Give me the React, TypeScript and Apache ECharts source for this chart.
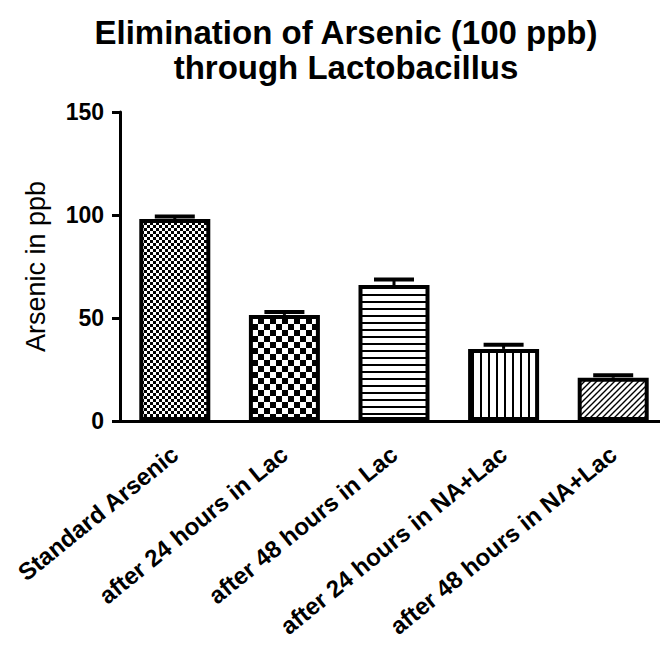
import React, { useEffect, useRef } from "react";
import * as echarts from "echarts";

const titleText = "Elimination of Arsenic (100 ppb)\nthrough Lactobacillus";
const yAxisName = "Arsenic in ppb";
const categories = [
  "Standard Arsenic",
  "after 24 hours in Lac",
  "after 48 hours in Lac",
  "after 24 hours in NA+Lac",
  "after 48 hours in NA+Lac",
];
const means = [98, 51.5, 66, 35, 21];
const errors = [1.3, 1.4, 2.7, 2, 1.2];
const patternKinds = ["fineChecker", "coarseChecker", "hlines", "vlines", "diag"];

function makePattern(kind: string): HTMLCanvasElement {
  const c = document.createElement("canvas");
  const ctx = c.getContext("2d")!;
  if (kind === "fineChecker" || kind === "coarseChecker") {
    const cell = kind === "fineChecker" ? 3 : 6;
    c.width = cell * 2;
    c.height = cell * 2;
    ctx.fillStyle = "#fff";
    ctx.fillRect(0, 0, c.width, c.height);
    ctx.fillStyle = "#000";
    ctx.fillRect(0, 0, cell, cell);
    ctx.fillRect(cell, cell, cell, cell);
  } else if (kind === "hlines") {
    c.width = 7;
    c.height = 7;
    ctx.fillStyle = "#fff";
    ctx.fillRect(0, 0, 7, 7);
    ctx.fillStyle = "#000";
    ctx.fillRect(0, 0, 7, 2);
  } else if (kind === "vlines") {
    c.width = 8;
    c.height = 8;
    ctx.fillStyle = "#fff";
    ctx.fillRect(0, 0, 8, 8);
    ctx.fillStyle = "#000";
    ctx.fillRect(0, 0, 2, 8);
  } else {
    const p = 6;
    c.width = p;
    c.height = p;
    ctx.fillStyle = "#fff";
    ctx.fillRect(0, 0, p, p);
    ctx.strokeStyle = "#000";
    ctx.lineWidth = 1.4;
    ctx.beginPath();
    ctx.moveTo(0, p);
    ctx.lineTo(p, 0);
    ctx.moveTo(-1, 1);
    ctx.lineTo(1, -1);
    ctx.moveTo(p - 1, p + 1);
    ctx.lineTo(p + 1, p - 1);
    ctx.stroke();
  }
  return c;
}

export default function App() {
  const ref = useRef<HTMLDivElement>(null);
  useEffect(() => {
    document.body.style.overflow = "hidden";
    if (!ref.current) return;
    const chart = echarts.init(ref.current, undefined, { renderer: "svg" });
    const font = "'Liberation Sans', Arial, sans-serif";
    const barData = means.map((v, i) => ({
      value: v,
      itemStyle: {
        color: { image: makePattern(patternKinds[i]), repeat: "repeat" } as any,
        borderColor: "#000",
        borderWidth: 4,
      },
    }));
    const errData = means.map((v, i) => [i, v, v + errors[i]]);
    chart.setOption({
      animation: false,
      backgroundColor: "#fff",
      title: {
        text: titleText,
        left: 341,
        top: 10,
        textAlign: "center",
        textStyle: {
          fontFamily: font,
          fontWeight: "bold",
          fontSize: 33,
          lineHeight: 35,
          color: "#000",
        },
      },
      grid: { left: 120, right: 0, top: 112, bottom: 232, containLabel: false },
      xAxis: {
        type: "category",
        data: categories,
        axisLine: { lineStyle: { color: "#000", width: 3 } },
        axisTick: { alignWithLabel: true, length: 10, lineStyle: { color: "#000", width: 3 } },
        axisLabel: {
          rotate: 39,
          margin: 30,
          interval: 0,
          fontFamily: font,
          fontWeight: "bold",
          fontSize: 24,
          color: "#000",
        },
      },
      yAxis: {
        type: "value",
        min: 0,
        max: 150,
        interval: 50,
        name: yAxisName,
        nameLocation: "middle",
        nameRotate: 90,
        nameGap: 71,
        nameTextStyle: { fontFamily: font, fontSize: 27, color: "#000" },
        splitLine: { show: false },
        axisLine: { show: true, lineStyle: { color: "#000", width: 3 } },
        axisTick: { show: true, length: 8, lineStyle: { color: "#000", width: 3 } },
        axisLabel: {
          margin: 16,
          fontFamily: font,
          fontWeight: "bold",
          fontSize: 23,
          color: "#000",
        },
      },
      series: [
        {
          type: "bar",
          data: barData,
          barWidth: 71,
        },
        {
          type: "custom",
          data: errData,
          z: 5,
          renderItem: (params: any, api: any) => {
            const base = api.coord([api.value(0), api.value(1)]);
            const top = api.coord([api.value(0), api.value(2)]);
            return {
              type: "group",
              children: [
                {
                  type: "line",
                  shape: { x1: base[0], y1: base[1], x2: top[0], y2: top[1] },
                  style: { stroke: "#000", lineWidth: 3 },
                },
                {
                  type: "line",
                  shape: { x1: top[0] - 20, y1: top[1], x2: top[0] + 20, y2: top[1] },
                  style: { stroke: "#000", lineWidth: 4 },
                },
              ],
            };
          },
        },
      ],
    });
    return () => chart.dispose();
  }, []);
  return (
    <div
      ref={ref}
      style={{ position: "absolute", left: 0, top: 0, width: 668, height: 653 }}
    />
  );
}
